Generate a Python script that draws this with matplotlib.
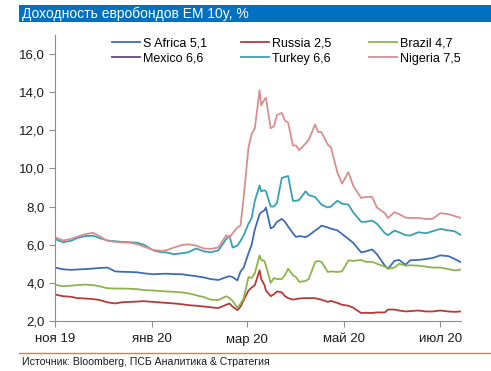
import matplotlib
matplotlib.use("Agg")
import matplotlib.pyplot as plt
import matplotlib.ticker as mticker
import pandas as pd
from matplotlib.patches import Rectangle
from matplotlib.lines import Line2D

plt.rcParams['font.family'] = ['Liberation Sans', 'DejaVu Sans']

dates = ["2019-11-01", "2019-11-06", "2019-11-11", "2019-11-15", "2019-11-20", "2019-11-25",
         "2019-11-29", "2019-12-04", "2019-12-09", "2019-12-13", "2019-12-18", "2019-12-23",
         "2019-12-27", "2020-01-02", "2020-01-07", "2020-01-10", "2020-01-15", "2020-01-20",
         "2020-01-24", "2020-01-29", "2020-02-03", "2020-02-07", "2020-02-12", "2020-02-17",
         "2020-02-19", "2020-02-21", "2020-02-24", "2020-02-26", "2020-02-28", "2020-03-02",
         "2020-03-04", "2020-03-06", "2020-03-09", "2020-03-10", "2020-03-12", "2020-03-13",
         "2020-03-16", "2020-03-18", "2020-03-20", "2020-03-23", "2020-03-25", "2020-03-27",
         "2020-03-30", "2020-04-01", "2020-04-03", "2020-04-07", "2020-04-09", "2020-04-13",
         "2020-04-15", "2020-04-17", "2020-04-21", "2020-04-23", "2020-04-27", "2020-04-30",
         "2020-05-04", "2020-05-07", "2020-05-12", "2020-05-15", "2020-05-19", "2020-05-22",
         "2020-05-27", "2020-05-29", "2020-06-02", "2020-06-05", "2020-06-09", "2020-06-12",
         "2020-06-17", "2020-06-22", "2020-06-26", "2020-07-01", "2020-07-06", "2020-07-10",
         "2020-07-14"]

s_africa = [4.80, 4.71, 4.68, 4.70, 4.72, 4.75, 4.78, 4.80, 4.60, 4.58, 4.57, 4.55,
            4.50, 4.45, 4.47, 4.48, 4.46, 4.45, 4.40, 4.35, 4.28, 4.20, 4.15, 4.30,
            4.35, 4.30, 4.13, 4.60, 4.80, 5.55, 6.00, 6.80, 7.60, 7.69, 7.80, 7.95,
            6.85, 6.95, 7.20, 7.35, 7.20, 6.95, 6.60, 6.40, 6.45, 6.40, 6.48, 6.74,
            6.85, 7.00, 6.90, 6.84, 6.75, 6.56, 6.30, 6.10, 5.60, 5.65, 5.75, 5.50,
            4.90, 4.74, 5.15, 5.20, 4.95, 5.18, 5.20, 5.25, 5.30, 5.44, 5.40, 5.25,
            5.08]

russia = [3.39, 3.30, 3.27, 3.20, 3.18, 3.15, 3.10, 2.98, 2.92, 2.98, 3.00, 3.02,
          3.04, 3.00, 2.97, 2.95, 2.92, 2.88, 2.83, 2.80, 2.76, 2.72, 2.68, 2.85,
          2.92, 2.75, 2.57, 2.75, 3.10, 3.60, 3.75, 3.88, 4.66, 4.20, 3.90, 3.60,
          3.30, 3.40, 3.55, 3.50, 3.30, 3.20, 3.12, 3.15, 3.18, 3.20, 3.20, 3.20,
          3.15, 3.12, 3.00, 3.05, 2.95, 2.85, 2.80, 2.70, 2.42, 2.43, 2.42, 2.45,
          2.45, 2.60, 2.60, 2.55, 2.50, 2.52, 2.55, 2.50, 2.50, 2.55, 2.50, 2.48,
          2.50]

brazil = [3.90, 3.82, 3.85, 3.88, 3.91, 3.88, 3.82, 3.72, 3.70, 3.70, 3.69, 3.67,
          3.62, 3.60, 3.57, 3.55, 3.53, 3.50, 3.45, 3.35, 3.25, 3.12, 3.10, 3.30,
          3.20, 3.05, 2.70, 2.90, 3.20, 4.30, 4.25, 4.50, 5.44, 5.20, 5.15, 4.90,
          4.00, 4.25, 4.20, 4.20, 4.40, 4.74, 4.40, 4.30, 4.05, 4.10, 4.20, 5.09,
          5.15, 5.10, 4.57, 4.60, 4.57, 4.60, 5.18, 5.15, 5.20, 5.10, 5.10, 5.00,
          4.85, 4.74, 4.80, 5.00, 4.90, 4.92, 4.90, 4.85, 4.80, 4.80, 4.72, 4.65,
          4.70]

mexico = []  # в легенде есть, линии на графике не видно

turkey = [6.30, 6.13, 6.20, 6.35, 6.45, 6.47, 6.35, 6.22, 6.18, 6.15, 6.13, 6.10,
          6.00, 5.70, 5.60, 5.60, 5.50, 5.55, 5.60, 5.80, 5.65, 5.60, 5.70, 6.30,
          6.45, 5.85, 5.95, 6.20, 6.50, 7.10, 7.40, 8.30, 9.10, 8.80, 8.85, 8.80,
          8.00, 8.00, 8.20, 9.50, 9.55, 9.60, 8.30, 8.30, 8.35, 8.80, 8.60, 8.50,
          8.30, 8.10, 7.95, 8.00, 8.30, 8.15, 8.10, 7.70, 7.20, 7.20, 7.26, 7.10,
          6.60, 6.50, 6.74, 6.65, 6.50, 6.48, 6.65, 6.60, 6.70, 6.83, 6.75, 6.70,
          6.50]

nigeria = [6.39, 6.22, 6.30, 6.42, 6.55, 6.62, 6.45, 6.20, 6.15, 6.12, 6.10, 6.02,
           5.90, 5.72, 5.68, 5.70, 5.85, 5.98, 6.02, 5.95, 5.80, 5.78, 5.85, 6.50,
           6.35, 6.60, 6.90, 7.00, 8.50, 11.10, 11.80, 12.10, 14.10, 13.30, 13.60, 13.70,
           12.10, 12.20, 12.80, 12.90, 12.50, 12.40, 11.20, 11.20, 10.95, 11.30, 11.50, 12.30,
           11.90, 11.90, 11.25, 11.10, 9.80, 9.20, 9.80, 9.10, 8.45, 8.50, 8.50, 7.95,
           7.65, 7.40, 7.70, 7.60, 7.42, 7.40, 7.40, 7.35, 7.35, 7.65, 7.60, 7.50,
           7.40]

series_labels = ["S Africa 5,1", "Russia 2,5", "Brazil 4,7", "Mexico 6,6", "Turkey 6,6", "Nigeria 7,5"]
series_colors = ["#3F6DB3", "#B73A3A", "#8DB44A", "#5E4A7E", "#37A1B1", "#D98E8E"]

tick_dates = ["2019-11-01", "2020-01-01", "2020-03-01", "2020-05-01", "2020-07-01"]
tick_labels = ["ноя 19", "янв 20", "мар 20", "май 20", "июл 20"]

title = "Доходность евробондов EM 10y, %"
source = "Источник: Bloomberg, ПСБ Аналитика & Стратегия"


def draw():
	fig = plt.figure(figsize=(4.91, 3.71), dpi=100)
	ax = fig.add_axes([55 / 491., 50 / 371., 406 / 491., 286.2 / 371.])

	x = pd.to_datetime(dates)
	all_series = [s_africa, russia, brazil, mexico, turkey, nigeria]
	handles = []
	for vals, lab, col in zip(all_series, series_labels, series_colors):
		if len(vals):
			ax.plot(x, vals, color=col, lw=1.3, solid_joinstyle='round')
		handles.append(Line2D([], [], color=col, lw=1.3, label=lab))

	ax.set_ylim(2, 17)
	ax.set_xlim(pd.Timestamp(dates[0]), pd.Timestamp(dates[-1]))
	ax.set_yticks(range(2, 17, 2))
	ax.yaxis.set_major_formatter(mticker.FuncFormatter(lambda v, p: ("%.1f" % v).replace('.', ',')))
	ax.set_xticks(pd.to_datetime(tick_dates))
	ax.set_xticklabels(tick_labels)

	for side in ['top', 'right']:
		ax.spines[side].set_visible(False)
	for side in ['left', 'bottom']:
		ax.spines[side].set_color('#8C8C8C')
		ax.spines[side].set_linewidth(0.8)
	ax.tick_params(axis='both', colors='#8C8C8C', labelcolor='#1A1A1A', labelsize=9.5,
	               length=4, width=0.8, direction='out')
	ax.tick_params(axis='x', pad=5)

	# легенда: три колонки на равном расстоянии, строки как в оригинале
	col_x = [112, 241, 369]
	for i in range(3):
		fig.legend(handles=[handles[i], handles[i + 3]], loc='upper left',
		           bbox_to_anchor=(col_x[i] / 491., 1 - 37 / 371.),
		           frameon=False, fontsize=9, handlelength=2.2, handletextpad=0.25,
		           labelspacing=0.3, borderaxespad=0, borderpad=0)

	# шапка
	fig.patches.append(Rectangle((19 / 491., 1 - 22 / 371.), 472 / 491., 16.5 / 371.,
	                             transform=fig.transFigure, facecolor='#0070C0', edgecolor='none'))
	fig.text(22 / 491., 1 - 14 / 371., title, color='white', fontsize=10, va='center', ha='left')

	# источник
	fig.add_artist(Line2D([19 / 491., 1.0], [1 - 353 / 371., 1 - 353 / 371.],
	                      transform=fig.transFigure, color='#E07B39', lw=1.0))
	fig.text(22 / 491., 1 - 362 / 371., source, color='#1A1A1A', fontsize=7.6, va='center', ha='left')

	fig.savefig("out.png", dpi=100)


def main():
	draw()


if __name__ == "__main__":
	main()
